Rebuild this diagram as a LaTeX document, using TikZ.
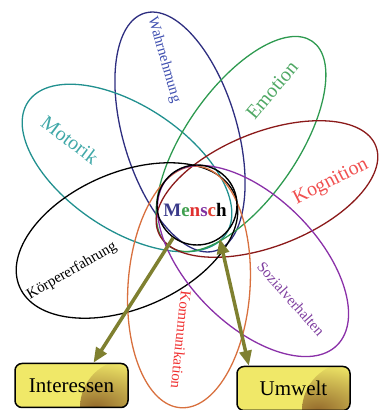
\documentclass[tikz,border=0pt]{standalone}
\usepackage{fontspec}
\setmainfont{Liberation Serif}
\usetikzlibrary{arrows.meta}
\definecolor{cnavy}{HTML}{2E2E80}
\definecolor{cteal}{HTML}{21908F}
\definecolor{cgreen}{HTML}{2E9A50}
\definecolor{cdred}{HTML}{8B1A1A}
\definecolor{corange}{HTML}{D8703E}
\definecolor{cpurple}{HTML}{8A30A8}
\definecolor{tblue}{HTML}{4050B0}
\definecolor{tteal}{HTML}{40A8A8}
\definecolor{tgreen}{HTML}{50A865}
\definecolor{tred}{HTML}{F05050}
\definecolor{tred2}{HTML}{F03030}
\definecolor{tpurple}{HTML}{8040A0}
\definecolor{colive}{HTML}{7F8030}
\definecolor{boxyel}{HTML}{F0E868}
\definecolor{boxlt}{HTML}{F6F0A8}
\definecolor{boxbrn}{HTML}{946A2C}
\definecolor{mM}{HTML}{3A3A8A}
\definecolor{me}{HTML}{40A050}
\definecolor{mn}{HTML}{E03030}
\definecolor{ms}{HTML}{8030A0}
\definecolor{mc}{HTML}{E04030}
\tikzset{
  petal/.style={line width=1.3pt},
  biglbl/.style={inner sep=0pt, font=\fontsize{20}{22}\selectfont},
  smalllbl/.style={inner sep=0pt, font=\fontsize{15}{17}\selectfont},
  boxnode/.style={draw=black, line width=1.5pt, rounded corners=7pt, fill=boxyel,
    path picture={\shade[inner color=boxbrn, outer color=boxyel]
      (path picture bounding box.south east) circle (48pt);},
    minimum width=113pt, minimum height=44pt, inner sep=0pt, font=\fontsize{21}{24}\selectfont},
  conn/.style={draw=colive, line width=3.5pt},
  tip/.tip={Triangle[length=15pt,width=12pt]}
}
\begin{document}
\begin{tikzpicture}[x=1pt,y=1pt]
\useasboundingbox (0,0) rectangle (378,410);
% petals
\draw[petal, cnavy] (180,278) ellipse [x radius=124, y radius=57, rotate=-73.4];
\draw[petal, cteal] (127,242) ellipse [x radius=119, y radius=62, rotate=-33.7];
\draw[petal, cgreen] (241,266) ellipse [x radius=125, y radius=56, rotate=55.2];
\draw[petal, cdred] (267,221) ellipse [x radius=117, y radius=57, rotate=21.6];
\draw[petal, black] (127,169.5) ellipse [x radius=117, y radius=68, rotate=23.3];
\draw[petal, corange] (189,123) ellipse [x radius=121, y radius=61, rotate=86];
\draw[petal, cpurple] (253,149) ellipse [x radius=119, y radius=64, rotate=-45];
% centre
\node[circle, draw=black, line width=1.4pt, minimum size=80pt, inner sep=0pt] (mensch) at (197,205) {};
\node[inner sep=0pt, font=\bfseries\fontsize{19}{21}\selectfont] (menschtxt) at (195,200)
  {\textcolor{mM}{M}\textcolor{me}{e}\textcolor{mn}{n}\textcolor{ms}{s}\textcolor{mc}{c}h};
% labels
\node[smalllbl, text=tblue, rotate=-74] (wahr) at (164,350) {Wahrnehmung};
\node[biglbl, text=tteal, rotate=-37] (moto) at (70,270) {Motorik};
\node[biglbl, text=tgreen, rotate=50] (emo) at (272,320) {Emotion};
\node[biglbl, text=tred, rotate=27] (kog) at (331,228) {Kognition};
\node[smalllbl, text=black, rotate=30] (koerp) at (72,139) {Körpererfahrung};
\node[smalllbl, text=tred2, rotate=-96] (komm) at (181,70) {Kommunikation};
\node[smalllbl, text=tpurple, rotate=-48.5] (sozi) at (291,111) {Sozialverhalten};
% boxes
\node[boxnode] (inter) at (71.5,24.5) {Interessen};
\node[boxnode] (umwelt) at (293.5,21.5) {Umwelt};
% connectors
\draw[conn, -{tip}] (mensch.234) -- (inter.46);
\draw[conn, {tip}-{tip}] (mensch.-56) -- (umwelt.153);
\end{tikzpicture}
\end{document}
